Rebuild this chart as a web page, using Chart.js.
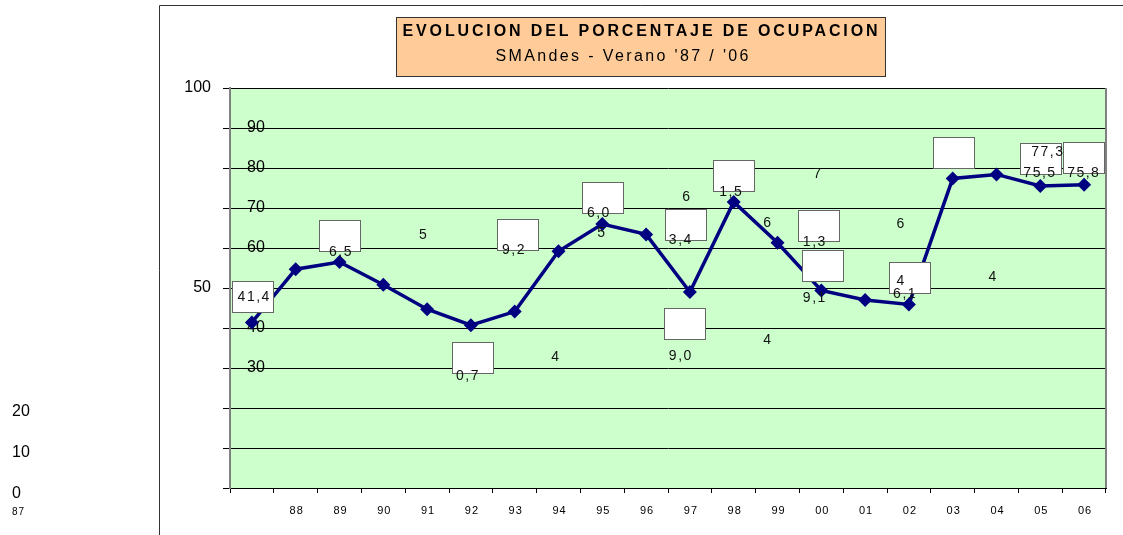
<!DOCTYPE html>
<html>
<head>
<meta charset="utf-8">
<script src="https://cdn.jsdelivr.net/npm/chart.js@4.4.1/dist/chart.umd.min.js"></script>
<style>
  html, body { margin: 0; padding: 0; background: #fff; overflow: hidden; }
  canvas { display: block; }
</style>
</head>
<body>
<canvas id="chart" width="1123" height="535"></canvas>
<script>
// data
const years = ['87','88','89','90','91','92','93','94','95','96','97','98','99','00','01','02','03','04','05','06'];
const ocupacion = [41.4, 54.7, 56.5, 50.8, 44.7, 40.7, 44.1, 59.2, 66.0, 63.4, 49.0, 71.5, 61.3, 49.4, 47.0, 45.9, 77.4, 78.4, 75.5, 75.8];
const yTicks = [0, 10, 20, 30, 40, 50, 60, 70, 80, 90, 100];

const title = 'EVOLUCION DEL PORCENTAJE DE OCUPACION';
const subtitle = "SMAndes - Verano '87 / '06";

// the broken data-label boxes and stray label fragments, in [category, value] units
const boxAt = [[0.03, 47.75], [2.02, 63], [6.07, 63.25], [5.04, 32.5], [8.02, 72.5], [9.91, 65.75],
  [9.88, 41], [11.01, 77.9], [12.94, 65.4], [13.05, 55.5], [15.03, 52.4], [16.02, 83.8], [18.02, 82.25], [19.0, 82.5]];
const strayTexts = ['41,4', '6,5', '5', '9,2', '0,7', '4', '6,0', '5', '6', '3,4', '9,0', '1,5', '7', '6',
  '1,3', '9,1', '4', '6', '4', '6,1', '4', '77,3', '75,5', '75,8'];
const strayAt = [[0.03, 47.75], [2.01, 59], [3.9, 63.25], [5.96, 59.5], [4.91, 28], [6.92, 32.75], [7.9, 68.75],
  [7.97, 63.75], [9.91, 72.75], [9.77, 62], [9.77, 33], [10.92, 74], [12.9, 78.5], [11.76, 66.25], [12.83, 61.5],
  [12.83, 47.5], [11.76, 37], [14.8, 66], [14.8, 51.75], [14.89, 48.5], [16.9, 52.75], [18.15, 84], [17.97, 78.75], [18.97, 78.75]];

const FONT = '"Liberation Sans", Arial, sans-serif';

function spaced(ctx, text, cx, cy, target, font) {
  ctx.font = font;
  ctx.letterSpacing = '0px';
  const w = ctx.measureText(text).width;
  ctx.letterSpacing = ((target - w) / (text.length - 1)) + 'px';
  ctx.textAlign = 'left';
  ctx.textBaseline = 'middle';
  ctx.fillText(text, cx - target / 2, cy);
  ctx.letterSpacing = '0px';
}

function catX(x, pos) {
  const x0 = x.getPixelForValue(0);
  const step = x.getPixelForValue(1) - x0;
  return x0 + pos * step;
}

const decor = {
  id: 'decor',
  beforeDraw(chart) {
    const { ctx, chartArea: a, scales: { x, y } } = chart;
    ctx.save();
    ctx.fillStyle = '#fff';
    ctx.fillRect(0, 0, chart.width, chart.height);
    ctx.fillStyle = '#CCFFCC';
    ctx.fillRect(a.left, a.top, a.right - a.left, a.bottom - a.top);

    // outer frame
    ctx.strokeStyle = '#333';
    ctx.lineWidth = 1;
    ctx.beginPath();
    ctx.moveTo(159.5, 535);
    ctx.lineTo(159.5, 5.5);
    ctx.lineTo(1123, 5.5);
    ctx.stroke();

    // title box
    ctx.fillStyle = '#FFCC99';
    ctx.fillRect(396, 17, 490, 59);
    ctx.strokeStyle = '#333';
    ctx.strokeRect(396.5, 17.5, 489, 59);
    ctx.fillStyle = '#000';
    spaced(ctx, title, 640, 32, 475, 'bold 16px ' + FONT);
    spaced(ctx, subtitle, 622, 57, 253, '16px ' + FONT);

    // y labels, scattered the way the original rendered them
    ctx.font = '16px ' + FONT;
    ctx.textBaseline = 'middle';
    ctx.fillStyle = '#000';
    yTicks.forEach(v => {
      const py = y.getPixelForValue(v);
      if (v === 100 || v === 50) {
        ctx.textAlign = 'right';
        ctx.fillText(String(v), 211, py);
      } else if (v <= 20) {
        ctx.textAlign = 'left';
        ctx.fillText(String(v), 12, py + 4 + (20 - v) / 10);
      } else {
        ctx.textAlign = 'left';
        ctx.fillText(String(v), 247, py);
      }
    });

    // x labels
    ctx.font = '11px ' + FONT;
    ctx.letterSpacing = '1px';
    ctx.textAlign = 'center';
    years.forEach((yr, i) => {
      if (i === 0) return;
      ctx.fillText(yr, x.getPixelForValue(i) + 1, 511);
    });
    ctx.font = '10px ' + FONT;
    ctx.textAlign = 'left';
    ctx.fillText(years[0], 12, 512);
    ctx.letterSpacing = '0px';
    ctx.restore();
  },
  beforeDatasetsDraw(chart) {
    const { ctx, chartArea: a } = chart;
    ctx.save();
    ctx.strokeStyle = '#808080';
    ctx.lineWidth = 2;
    ctx.beginPath();
    ctx.moveTo(a.right, a.top);
    ctx.lineTo(a.right, a.bottom);
    ctx.stroke();
    ctx.restore();
  },
  afterDatasetsDraw(chart) {
    const { ctx, scales: { x, y } } = chart;
    ctx.save();
    ctx.fillStyle = '#fff';
    ctx.strokeStyle = '#666';
    ctx.lineWidth = 1;
    boxAt.forEach(([c, v]) => {
      const cx = Math.round(catX(x, c)), cy = Math.round(y.getPixelForValue(v));
      ctx.fillRect(cx - 21, cy - 16, 42, 32);
      ctx.strokeRect(cx - 20.5, cy - 15.5, 41, 31);
    });
    ctx.fillStyle = '#111';
    ctx.font = '14px ' + FONT;
    ctx.letterSpacing = '1.5px';
    ctx.textAlign = 'center';
    ctx.textBaseline = 'middle';
    strayTexts.forEach((t, i) => {
      const [c, v] = strayAt[i];
      ctx.fillText(t, catX(x, c) + 1, y.getPixelForValue(v));
    });
    ctx.letterSpacing = '0px';
    ctx.restore();
  }
};

new Chart(document.getElementById('chart'), {
  type: 'line',
  data: {
    labels: years,
    datasets: [{
      data: ocupacion,
      borderColor: '#000080',
      borderWidth: 3.5,
      pointStyle: 'rectRot',
      pointRadius: 7,
      pointBackgroundColor: '#000080',
      pointBorderWidth: 0,
      tension: 0
    }]
  },
  options: {
    responsive: false,
    animation: false,
    devicePixelRatio: 1,
    layout: { padding: { left: 0, top: 88, right: 17, bottom: 0 } },
    plugins: {
      legend: { display: false },
      tooltip: { enabled: false },
      title: { display: false }
    },
    scales: {
      x: {
        type: 'category',
        offset: true,
        grid: { offset: true, drawOnChartArea: false, tickLength: 5, color: '#000' },
        border: { color: '#000', width: 1 },
        ticks: { display: false },
        afterFit: s => { s.height = 47; }
      },
      y: {
        min: 0,
        max: 100,
        ticks: { display: false, stepSize: 10 },
        grid: { color: '#000', lineWidth: 1, tickLength: 7 },
        border: { color: '#808080', width: 2 },
        afterFit: s => { s.width = 230; }
      }
    }
  },
  plugins: [decor]
});
</script>
</body>
</html>
